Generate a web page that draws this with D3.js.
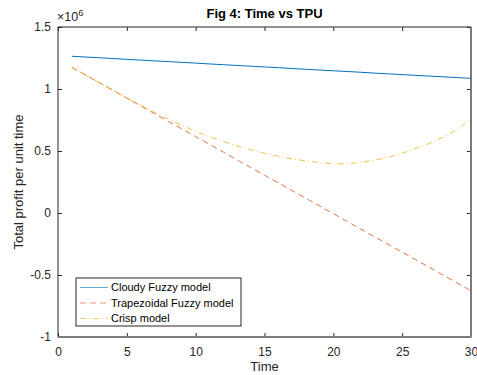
<!DOCTYPE html>
<html>
<head>
<meta charset="utf-8">
<script src="https://cdn.jsdelivr.net/npm/d3@7"></script>
<style>
  body { margin: 0; background: #fff; }
  svg { font-family: "Liberation Sans", Arial, sans-serif; }
</style>
</head>
<body>
<svg id="chart" width="477" height="375"></svg>
<script>
// time steps
var times = d3.range(1, 31);

// series values (x 10^6)
var cloudy = [1.264, 1.258, 1.252, 1.246, 1.239, 1.233, 1.227, 1.221, 1.215, 1.209,
  1.202, 1.196, 1.190, 1.184, 1.178, 1.172, 1.165, 1.159, 1.153, 1.147,
  1.141, 1.135, 1.128, 1.122, 1.116, 1.110, 1.104, 1.098, 1.092, 1.086];
var trapezoidal = [1.175, 1.113, 1.051, 0.989, 0.926, 0.864, 0.802, 0.740, 0.678, 0.616,
  0.554, 0.492, 0.429, 0.367, 0.305, 0.243, 0.181, 0.119, 0.057, -0.005,
  -0.068, -0.130, -0.192, -0.254, -0.316, -0.378, -0.440, -0.502, -0.565, -0.627];
var crisp = [1.175, 1.113, 1.051, 0.989, 0.928, 0.868, 0.812, 0.758, 0.707, 0.658,
  0.615, 0.576, 0.541, 0.510, 0.482, 0.458, 0.437, 0.420, 0.406, 0.397,
  0.398, 0.409, 0.427, 0.449, 0.482, 0.522, 0.562, 0.612, 0.672, 0.758];

var seriesNames = ['Cloudy Fuzzy model', 'Trapezoidal Fuzzy model', 'Crisp model'];
var xTicks = [0, 5, 10, 15, 20, 25, 30];
var yTicks = [-1, -0.5, 0, 0.5, 1, 1.5];

var svg = d3.select('#chart'),
  margin = { top: 27, right: 6, bottom: 38, left: 58 },
  width = 477 - margin.left - margin.right,
  height = 375 - margin.top - margin.bottom;

var x = d3.scaleLinear().domain([0, 30]).range([0, width]);
var y = d3.scaleLinear().domain([-1, 1.5]).range([height, 0]);

var g = svg.append('g')
  .attr('transform', 'translate(' + margin.left + ',' + margin.top + ')');

var axisColor = '#262626';

// axes (ticks point inward)
var styleAxis = function(sel) {
  sel.select('.domain').remove();
  sel.selectAll('line').attr('stroke', axisColor);
  sel.selectAll('text').attr('fill', axisColor).style('font-size', '12px');
};

g.append('g')
  .attr('transform', 'translate(0,' + height + ')')
  .call(d3.axisBottom(x).tickValues(xTicks).tickSize(-4).tickPadding(10).tickFormat(d3.format('d')))
  .call(styleAxis);
g.append('g')
  .call(d3.axisTop(x).tickValues(xTicks).tickSize(-4).tickFormat(''))
  .call(styleAxis);
g.append('g')
  .call(d3.axisLeft(y).tickValues(yTicks).tickSize(-4).tickPadding(7).tickFormat(function(d) { return d; }))
  .call(styleAxis);
g.append('g')
  .attr('transform', 'translate(' + width + ',0)')
  .call(d3.axisRight(y).tickValues(yTicks).tickSize(-4).tickFormat(''))
  .call(styleAxis);

// box
g.append('rect')
  .attr('width', width).attr('height', height)
  .attr('fill', 'none').attr('stroke', axisColor).attr('stroke-width', 1);
g.append('line')
  .attr('x1', 0).attr('x2', width).attr('y1', height).attr('y2', height)
  .attr('stroke', '#7a7a7a').attr('stroke-width', 2);
g.append('line')
  .attr('x1', width).attr('x2', width).attr('y1', 0).attr('y2', height)
  .attr('stroke', '#7a7a7a').attr('stroke-width', 2);

// lines
var series = [
  { name: seriesNames[0], values: cloudy, color: '#0072BD', dash: null },
  { name: seriesNames[1], values: trapezoidal, color: '#D95319', dash: '6,4' },
  { name: seriesNames[2], values: crisp, color: '#EDB120', dash: '6,3,1,3' }
];

var line = d3.line()
  .x(function(d, i) { return x(times[i]); })
  .y(function(d) { return y(d); });

g.selectAll('.series')
  .data(series)
  .enter()
  .append('path')
  .attr('class', 'series')
  .attr('d', function(d) { return line(d.values); })
  .attr('fill', 'none')
  .attr('stroke', function(d) { return d.color; })
  .attr('stroke-width', 1)
  .attr('stroke-dasharray', function(d) { return d.dash; })
  .attr('opacity', function(d, i) { return i === 0 ? 1 : 0.8; });

// exponent label
var expo = svg.append('text')
  .attr('x', margin.left - 1)
  .attr('y', 21)
  .attr('fill', axisColor)
  .style('font-size', '12.5px');
expo.append('tspan').text('\u00d710');
expo.append('tspan').attr('dy', -5).style('font-size', '9.5px').text('6');

// title
svg.append('text')
  .attr('x', margin.left + width / 2)
  .attr('y', 18)
  .attr('text-anchor', 'middle')
  .style('font-size', '13px')
  .style('font-weight', 'bold')
  .attr('fill', '#000')
  .text('Fig 4: Time vs TPU');

// axis labels
svg.append('text')
  .attr('x', margin.left + width / 2)
  .attr('y', 371)
  .attr('text-anchor', 'middle')
  .style('font-size', '13px')
  .attr('fill', axisColor)
  .text('Time');

svg.append('text')
  .attr('transform', 'translate(23,' + (margin.top + height / 2) + ') rotate(-90)')
  .attr('text-anchor', 'middle')
  .style('font-size', '13px')
  .attr('fill', axisColor)
  .text('Total profit per unit time');

// legend
var legend = svg.append('g').attr('transform', 'translate(76,278)');
legend.append('rect')
  .attr('width', 165).attr('height', 48)
  .attr('fill', '#fff').attr('stroke', '#262626').attr('stroke-width', 1);

var item = legend.selectAll('.item')
  .data(series)
  .enter()
  .append('g')
  .attr('transform', function(d, i) { return 'translate(0,' + (9.5 + i * 15.5) + ')'; });

item.append('line')
  .attr('x1', 4).attr('x2', 32)
  .attr('stroke', function(d) { return d.color; })
  .attr('stroke-width', 1)
  .attr('stroke-dasharray', function(d) { return d.dash; })
  .attr('opacity', 0.6);

item.append('text')
  .attr('x', 35)
  .attr('dy', '0.35em')
  .style('font-size', '11px')
  .attr('fill', '#000')
  .text(function(d) { return d.name; });
</script>
</body>
</html>
